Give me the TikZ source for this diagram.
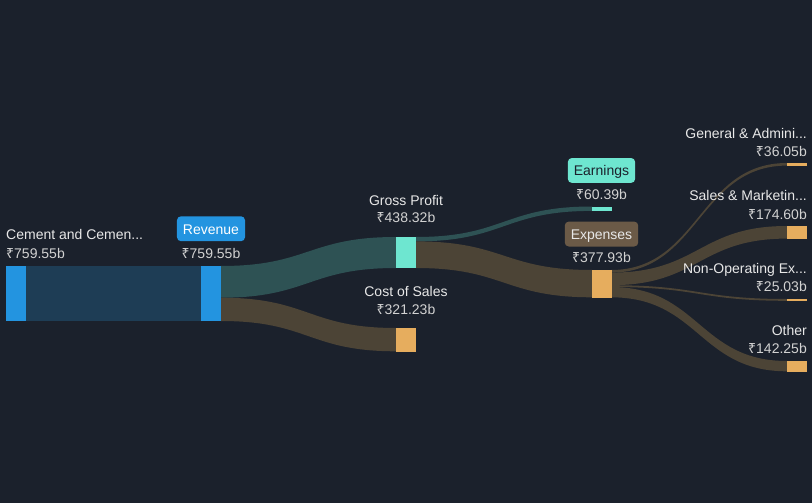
\documentclass[tikz,border=0pt]{standalone}
\usepackage{fontspec}
\setmainfont{Liberation Sans}
\newfontfamily\rupeefont{Noto Sans}
\newcommand{\inr}{{\rupeefont ₹}}

\definecolor{bg}{HTML}{1B212C}
\definecolor{revblue}{HTML}{2394E0}
\definecolor{segflow}{HTML}{1E3D55}
\definecolor{tealnode}{HTML}{6EE6D0}
\definecolor{tealflow}{HTML}{2E5254}
\definecolor{brownflow}{HTML}{4C4436}
\definecolor{costnode}{HTML}{E6AD5E}
\definecolor{expbox}{HTML}{6B5A47}
\definecolor{namec}{HTML}{E8E8E8}
\definecolor{valc}{HTML}{D2D2D2}

% band between two bars: x1, top1, bottom1, x2, top2, bottom2, colour
\newcommand{\band}[7]{%
  \fill[#7] (#1,#2) .. controls ({(#1+#4)/2},#2) and ({(#1+#4)/2},#5) .. (#4,#5)
    -- (#4,#6) .. controls ({(#1+#4)/2},#6) and ({(#1+#4)/2},#3) .. (#1,#3) -- cycle;}

\begin{document}
\begin{tikzpicture}[x=1pt,y=-1pt,
  bar/.style={inner sep=0, minimum width=20pt, anchor=north west},
  lbl/.style={text=namec, font=\fontsize{14}{16}\selectfont, inner sep=0},
  amount/.style={text=valc, font=\fontsize{14}{16}\selectfont, inner sep=0},
  tagbox/.style={font=\fontsize{14}{16}\selectfont, rounded corners=4pt,
    text height=11.5pt, text depth=1pt, inner ysep=6.2pt, inner xsep=6pt, anchor=base}]
	\fill[bg] (0,0) rectangle (812,503);
	\useasboundingbox (0,0) rectangle (812,503);
	% flows
	\fill[segflow] (26,266) rectangle (201,321);
	\band{221}{266}{297.7}{396}{237}{268}{tealflow}
	\band{221}{297.7}{321}{396}{328}{351.3}{brownflow}
	\band{416}{237}{241.4}{592}{206.5}{210.9}{tealflow}
	\band{416}{241.4}{268}{592}{270}{297.3}{brownflow}
	\band{611}{270}{272.6}{787}{163}{165.6}{brownflow}
	\band{611}{272.6}{285.2}{787}{226}{238.6}{brownflow}
	\band{611}{285.2}{287}{787}{299}{300.8}{brownflow}
	\band{611}{287}{297.3}{787}{361}{371.3}{brownflow}
	% bars
	\node[bar, fill=revblue, minimum height=55pt] (seg) at (6,266) {};
	\node[bar, fill=revblue, minimum height=55pt] (rev) at (201,266) {};
	\node[bar, fill=tealnode, minimum height=31pt] (gp) at (396,237) {};
	\node[bar, fill=costnode, minimum height=23.3pt] (cos) at (396,328) {};
	\node[bar, fill=tealnode, minimum height=4.4pt] (earn) at (592,206.5) {};
	\node[bar, fill=costnode, minimum height=27.3pt] (exp) at (592,270) {};
	\node[bar, fill=costnode, minimum height=2.6pt] (ga) at (787,163) {};
	\node[bar, fill=costnode, minimum height=12.6pt] (sm) at (787,226) {};
	\node[bar, fill=costnode, minimum height=1.8pt] (nonop) at (787,299) {};
	\node[bar, fill=costnode, minimum height=10.3pt] (other) at (787,361) {};
	% labels
	\node[lbl, anchor=base west] (segname) at (6,239.5) {Cement and Cemen...};
	\node[amount, anchor=base west] (segval) at (6,258.5) {\inr759.55b};
	\node[tagbox, fill=revblue, text=white] (revname) at (211,234) {Revenue};
	\node[amount, anchor=base] (revval) at (211,258.5) {\inr759.55b};
	\node[lbl, anchor=base] (gpname) at (406,205) {Gross Profit};
	\node[amount, anchor=base] (gpval) at (406,222.7) {\inr438.32b};
	\node[lbl, anchor=base] (cosname) at (406,296) {Cost of Sales};
	\node[amount, anchor=base] (cosval) at (406,314.3) {\inr321.23b};
	\node[tagbox, fill=tealnode, text=bg] (earnname) at (601.5,175.7) {Earnings};
	\node[amount, anchor=base] (earnval) at (601.5,199.3) {\inr60.39b};
	\node[tagbox, fill=expbox, text=namec] (expname) at (601.5,239.3) {Expenses};
	\node[amount, anchor=base] (expval) at (601.5,262.7) {\inr377.93b};
	\node[lbl, anchor=base east] (ganame) at (807,138.3) {General \& Admini...};
	\node[amount, anchor=base east] (gaval) at (807,156.7) {\inr36.05b};
	\node[lbl, anchor=base east] (smname) at (807,200) {Sales \& Marketin...};
	\node[amount, anchor=base east] (smval) at (807,219) {\inr174.60b};
	\node[lbl, anchor=base east] (nonopname) at (807,273.3) {Non-Operating Ex...};
	\node[amount, anchor=base east] (nonopval) at (807,291.7) {\inr25.03b};
	\node[lbl, anchor=base east] (othername) at (807,335) {Other};
	\node[amount, anchor=base east] (otherval) at (807,353.3) {\inr142.25b};
\end{tikzpicture}
\end{document}
